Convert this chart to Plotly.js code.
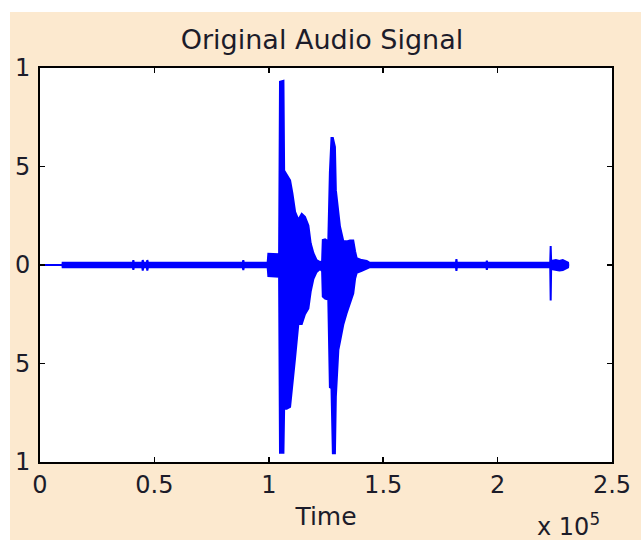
<!DOCTYPE html>
<html>
<head>
<meta charset="utf-8">
<script src="https://cdn.plot.ly/plotly-3.0.1.min.js"></script>
<style>
  html, body { margin: 0; padding: 0; background: #ffffff; width: 641px; height: 540px; overflow: hidden; }
  #chart { position: absolute; left: 10px; top: 12px; width: 631px; height: 528px; }
</style>
</head>
<body>
<div id="chart"></div>
<script>
// Envelope of the audio signal (sample index, upper and lower peak)
const sampleIndex = [
  0, 9800, 9900, 40600, 40800, 41000, 44700, 44900, 45200, 46700,
  46900, 47200, 88600, 88860, 89100, 99500, 99800, 104500, 104900, 106400,
  106700, 107800, 109300, 110300, 111500, 112900, 114400, 115800, 117300, 118300,
  119500, 120900, 122400, 123300, 123600, 124600, 126000, 126700, 127400, 128000,
  128900, 129300, 130400, 131100, 132600, 134000, 135500, 136900, 137700, 138400,
  140600, 142800, 144000, 181800, 182000, 182200, 195100, 195300, 195500, 223000,
  223200, 223400, 225500, 227000, 228500, 230800, 230900
];
const upperEnvelope = [
  0, 0, 0.012, 0.012, 0.025, 0.012, 0.012, 0.025, 0.012, 0.012,
  0.025, 0.012, 0.012, 0.024, 0.012, 0.012, 0.057, 0.055, 0.930, 0.935,
  0.480, 0.460, 0.430, 0.365, 0.270, 0.230, 0.260, 0.245, 0.200, 0.110,
  0.060, 0.025, 0.015, 0.020, 0.127, 0.130, 0.120, 0.470, 0.645, 0.645,
  0.600, 0.380, 0.260, 0.195, 0.120, 0.120, 0.125, 0.125, 0.070, 0.035,
  0.025, 0.020, 0.012, 0.012, 0.030, 0.012, 0.012, 0.022, 0.012, 0.012,
  0.096, 0.020, 0.025, 0.020, 0.025, 0.012, 0
];
const lowerEnvelope = [
  0, 0, -0.012, -0.012, -0.025, -0.012, -0.012, -0.028, -0.012, -0.012,
  -0.028, -0.012, -0.012, -0.026, -0.012, -0.012, -0.056, -0.060, -0.953, -0.953,
  -0.730, -0.730, -0.720, -0.590, -0.470, -0.300, -0.300, -0.250, -0.220, -0.135,
  -0.070, -0.035, -0.020, -0.030, -0.160, -0.170, -0.175, -0.620, -0.625, -0.955,
  -0.955, -0.670, -0.430, -0.390, -0.300, -0.245, -0.195, -0.145, -0.070, -0.040,
  -0.030, -0.020, -0.012, -0.012, -0.030, -0.012, -0.012, -0.024, -0.012, -0.012,
  -0.180, -0.020, -0.025, -0.028, -0.025, -0.012, 0
];

const xTickVals = [0, 50000, 100000, 150000, 200000, 250000];
const xTickText = ['0', '0.5', '1', '1.5', '2', '2.5'];
const yTickVals = [-1, -0.5, 0, 0.5, 1];
const yTickText = ['1', '5', '0', '5', '1'];

const blue = '#0000ff';
const textColor = '#1c1c2a';
const fontFamily = '"DejaVu Sans", "Liberation Sans", Arial, sans-serif';

const traces = [
  {
    x: sampleIndex, y: upperEnvelope, type: 'scatter', mode: 'lines',
    line: { color: blue, width: 2 }, hoverinfo: 'skip', showlegend: false
  },
  {
    x: sampleIndex, y: lowerEnvelope, type: 'scatter', mode: 'lines',
    line: { color: blue, width: 2 }, fill: 'tonexty', fillcolor: blue,
    hoverinfo: 'skip', showlegend: false
  }
];

const layout = {
  width: 631, height: 528,
  margin: { l: 30, r: 29, t: 56, b: 78, pad: 0 },
  paper_bgcolor: '#fce9cf',
  plot_bgcolor: '#ffffff',
  font: { family: fontFamily, color: textColor, size: 24 },
  title: {
    text: 'Original Audio Signal',
    font: { family: fontFamily, size: 27, color: textColor },
    xref: 'container', x: 0.4945, xanchor: 'center',
    yref: 'container', y: 0.947, yanchor: 'middle'
  },
  xaxis: {
    range: [0, 250000], tickmode: 'array', tickvals: xTickVals, ticktext: xTickText,
    ticks: 'inside', ticklen: 5, tickwidth: 1.5, tickcolor: '#000',
    showline: true, linecolor: '#000', linewidth: 2, mirror: 'ticks',
    showgrid: false, zeroline: false, automargin: false,
    tickfont: { size: 24, family: fontFamily, color: textColor },
    title: { text: 'Time', font: { size: 25, family: fontFamily, color: textColor }, standoff: 10 }
  },
  yaxis: {
    range: [-1, 1], tickmode: 'array', tickvals: yTickVals, ticktext: yTickText,
    ticks: 'inside', ticklen: 5, tickwidth: 1.5, tickcolor: '#000',
    showline: true, linecolor: '#000', linewidth: 2, mirror: 'ticks',
    showgrid: false, zeroline: false, automargin: false,
    ticklabelstandoff: 3,
    tickfont: { size: 24, family: fontFamily, color: textColor }
  },
  annotations: [
    {
      text: 'x 10<sup>5</sup>', xref: 'paper', yref: 'paper',
      x: 0.8654, xanchor: 'left', y: -0.114, yanchor: 'top',
      showarrow: false, font: { size: 24, family: fontFamily, color: textColor }
    }
  ]
};

Plotly.newPlot('chart', traces, layout, { displayModeBar: false, staticPlot: true });
</script>
</body>
</html>
